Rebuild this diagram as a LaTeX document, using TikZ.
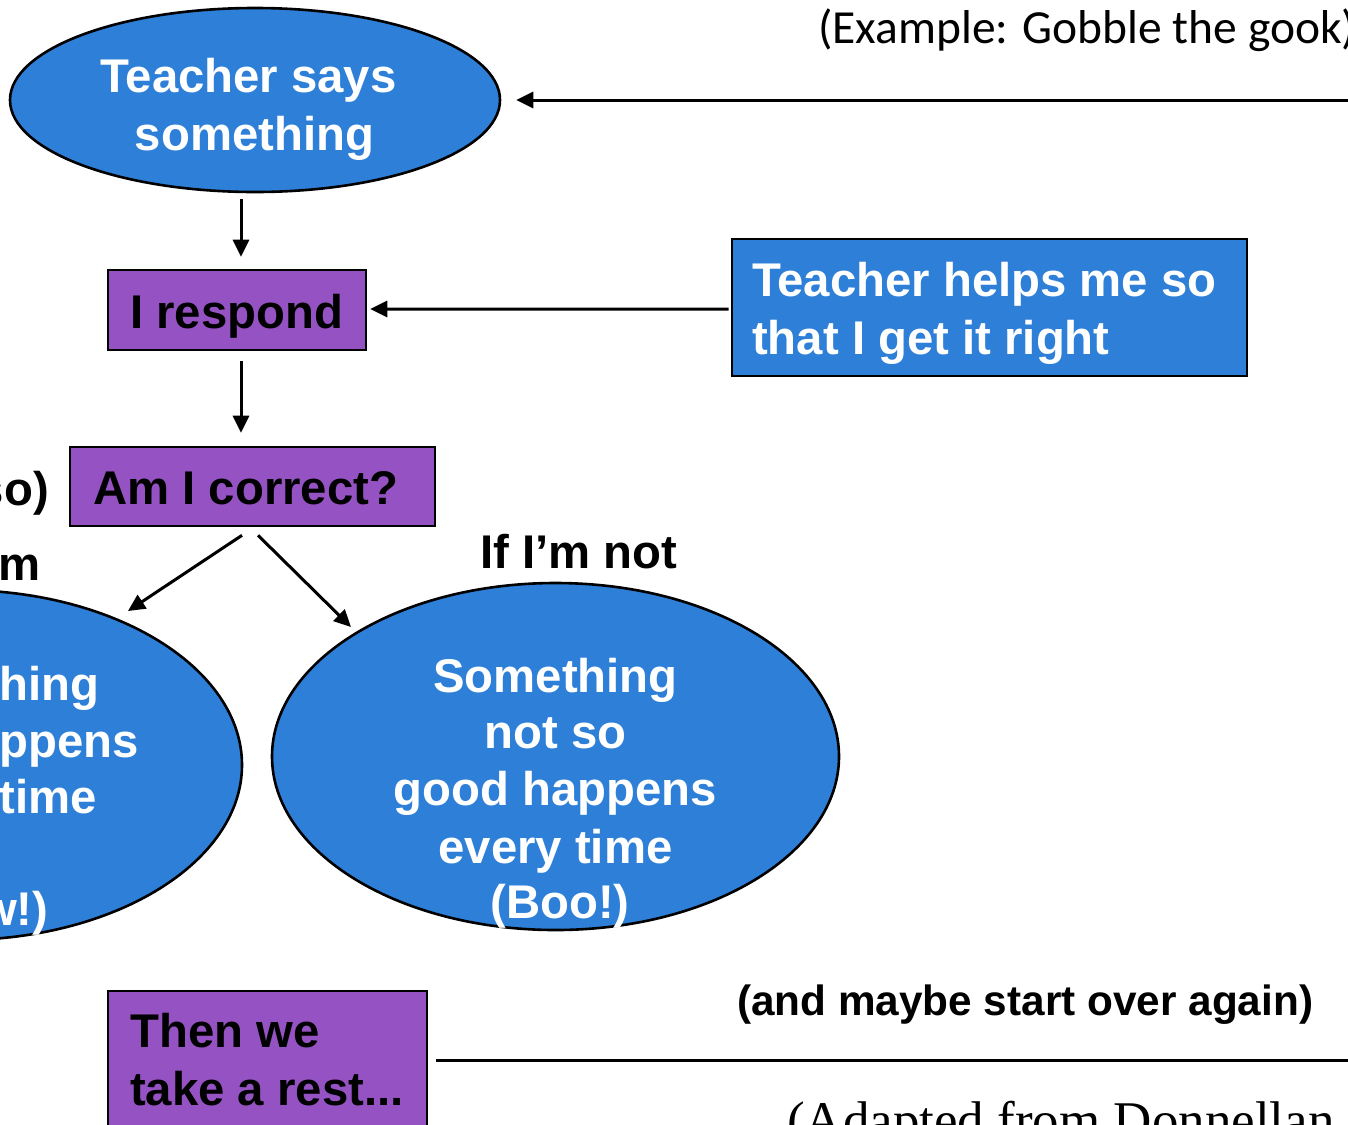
\documentclass[tikz,border=0pt]{standalone}
\usepackage{fontspec}
\setmainfont{Liberation Sans}
\newfontfamily\calibfont{Carlito}
\newfontfamily\timesfont{Liberation Serif}
\usetikzlibrary{arrows.meta,shapes.geometric}
\definecolor{nodeblue}{RGB}{46,127,215}
\definecolor{nodepurple}{RGB}{148,82,195}
\tikzset{
  blueell/.style={ellipse, draw=black, line width=2.6bp, fill=nodeblue, inner sep=0pt},
  purplebox/.style={rectangle, draw=black, line width=2.6bp, fill=nodepurple, inner sep=0pt},
  bluebox/.style={rectangle, draw=black, line width=2.6bp, fill=nodeblue, inner sep=0pt},
  wtxt/.style={text=white, font=\fontsize{47.3bp}{57bp}\selectfont\bfseries, inner sep=0pt},
  btxt/.style={text=black, font=\fontsize{47.3bp}{57bp}\selectfont\bfseries, inner sep=0pt},
  arr/.style={line width=3bp, -{Triangle[length=17bp,width=16bp]}},
  plainline/.style={line width=3bp},
}
\begin{document}
\begin{tikzpicture}[x=1bp,y=-1bp]
\useasboundingbox (0,0) rectangle (1348,1124);
\clip (0,0) rectangle (1348,1124);
\fill[white] (0,0) rectangle (1348,1124);

% shapes
\node[blueell, minimum width=490bp, minimum height=184bp] (teach) at (255,100) {};
\node[purplebox, minimum width=258bp, minimum height=80bp] (resp) at (237,310) {};
\node[purplebox, minimum width=365bp, minimum height=79bp] (corr) at (252.5,486.5) {};
\node[bluebox, minimum width=515bp, minimum height=137bp] (help) at (989.5,307.5) {};
\node[purplebox, minimum width=319bp, minimum height=138bp] (rest) at (267.5,1060) {};
\node[blueell, minimum width=567bp, minimum height=347bp] (rell) at (555.5,756.5) {};
\node[blueell, minimum width=564bp, minimum height=350bp] (lell) at (-40,765) {};

% texts
\node[wtxt, anchor=base] (t1) at (248.5,92) {Teacher says};
\node[wtxt, anchor=base] (t2) at (254.5,150) {something};
\node[btxt, anchor=base west] (rt) at (130,328) {I respond};
\node[btxt, anchor=base west] (ct) at (93,504) {Am I correct?};
\node[wtxt, anchor=base west] (h1) at (752,296) {Teacher helps me so};
\node[wtxt, anchor=base west] (h2) at (752,354) {that I get it right};
\node[btxt, anchor=base west] (ifnot) at (480,568) {If I’m not};
\node[btxt, anchor=base east] (orso) at (49,505) {(or almost so)};
\node[btxt, anchor=base east] (ifim) at (41,580) {If I’m};
\node[wtxt, anchor=base] (r1) at (555.5,692) {Something};
\node[wtxt, anchor=base] (r2) at (555.5,748) {not so};
\node[wtxt, anchor=base] (r3) at (555.5,805) {good happens};
\node[wtxt, anchor=base] (r4) at (555.5,863) {every time};
\node[wtxt, anchor=base] (r5) at (560,918) {(Boo!)};
\node[wtxt, anchor=base] (l1) at (-23,700) {Something};
\node[wtxt, anchor=base] (l2) at (-23,757) {good happens};
\node[wtxt, anchor=base] (l3) at (-20,813) {every time};
\node[wtxt, anchor=base] (l5) at (-30,925) {(Wow!)};
\node[btxt, anchor=base west] (rest1) at (130,1047) {Then we};
\node[btxt, anchor=base west] (rest2) at (130,1105) {take a rest...};
\node[text=black, inner sep=0pt, anchor=base west, font=\fontsize{42.3bp}{50bp}\selectfont\bfseries] (again) at (737,1015) {(and maybe start over again)};
\node[text=black, inner sep=0pt, anchor=base west, font=\calibfont\fontsize{47.5bp}{57bp}\selectfont] (example) at (818,43) {(Example: Gobble the gook)};
\node[text=black, inner sep=0pt, anchor=base west, font=\timesfont\fontsize{53bp}{60bp}\selectfont] (adapted) at (787,1138) {(Adapted from Donnellan};

% connectors
\draw[arr] ([shift={(-14,6)}]teach.south) -- ([shift={(4,-12)}]resp.north);
\draw[arr] ([shift={(4,10)}]resp.south) -- ([shift={(-11.5,-13)}]corr.north);
\draw[arr] ([shift={(-10.5,8)}]corr.south) -- ([shift={(168,-154)}]lell.center);
\draw[arr] ([shift={(5.5,8)}]corr.south) -- ([shift={(-204.5,-129.5)}]rell.center);
\draw[arr] ([shift={(-2,1.5)}]help.west) -- ([shift={(3,-1)}]resp.east);
\coordinate (topright) at (1352,100);
\draw[arr] (topright) -- ([shift={(15,0)}]teach.east);
\coordinate (botright) at (1352,1060);
\draw[plainline] ([shift={(8,0)}]rest.east) -- (botright);
\end{tikzpicture}
\end{document}
